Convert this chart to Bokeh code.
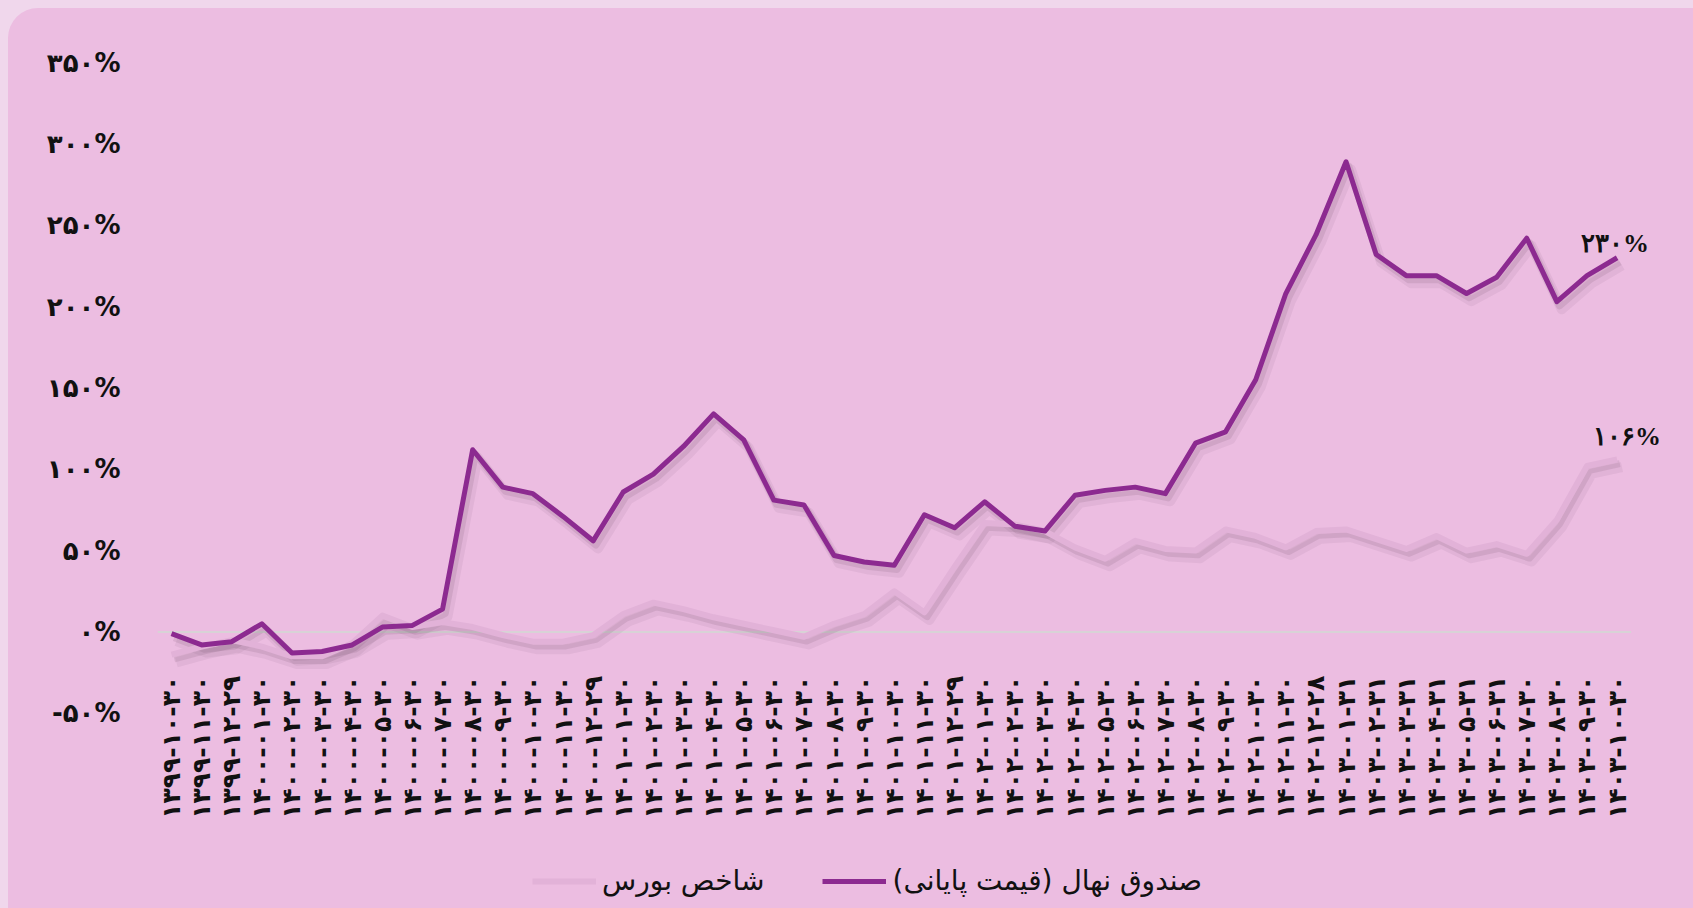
import math
from bokeh.plotting import figure
from bokeh.models import (ColumnDataSource, Range1d, FixedTicker, Legend, LegendItem,
                          GlobalInlineStyleSheet, LabelSet)
from bokeh.core.properties import value
from bokeh.embed import file_html
from bokeh.resources import INLINE

# ---------------- data ----------------
dates = [
    "1399-10-30", "1399-11-30", "1399-12-29",
    "1400-01-30", "1400-02-30", "1400-03-30", "1400-04-30", "1400-05-30", "1400-06-30",
    "1400-07-30", "1400-08-30", "1400-09-30", "1400-10-30", "1400-11-30", "1400-12-29",
    "1401-01-30", "1401-02-30", "1401-03-30", "1401-04-30", "1401-05-30", "1401-06-30",
    "1401-07-30", "1401-08-30", "1401-09-30", "1401-10-30", "1401-11-30", "1401-12-29",
    "1402-01-30", "1402-02-30", "1402-03-30", "1402-04-30", "1402-05-30", "1402-06-30",
    "1402-07-30", "1402-08-30", "1402-09-30", "1402-10-30", "1402-11-30", "1402-12-28",
    "1403-01-31", "1403-02-31", "1403-03-31", "1403-04-31", "1403-05-31", "1403-06-31",
    "1403-07-30", "1403-08-30", "1403-09-30", "1403-10-30",
]
nahal = [-1, -8, -6, 5, -13, -12, -8, 3, 4, 14,
         112, 89, 85, 71, 56, 86, 97, 114, 134, 118,
         81, 78, 47, 43, 41, 72, 64, 80, 65, 62,
         84, 87, 89, 85, 116, 123, 155, 208, 244, 289,
         232, 219, 219, 208, 218, 242, 203, 219, 230]
bourse = [-14, -9, -5, -9, -15, -15, -7, 10, 3, 6,
          3, -2, -6, -6, -2, 11, 18, 14, 9, 5,
          1, -3, 5, 11, 25, 12, 40, 67, 66, 62,
          52, 45, 56, 51, 50, 63, 59, 52, 62, 63,
          57, 51, 59, 50, 54, 48, 69, 102, 106]
y_ticks = [-50, 0, 50, 100, 150, 200, 250, 300, 350]
name_nahal = "صندوق نهال (قیمت پایانی)"
name_bourse = "شاخص بورس"

FA = str.maketrans("0123456789", "۰۱۲۳۴۵۶۷۸۹")
def fa(s):
    return str(s).translate(FA)

# ---------------- style ----------------
CARD = "#ecbde1"
PAGE = "#f0d7ec"
PURPLE = "#8c2a90"
LIGHT = "#e2b2d8"
SHADOW = "#5a3a55"
FONT = "DejaVu Sans"

n = len(dates)
x = list(range(n))
src = ColumnDataSource(dict(x=x, nahal=nahal, bourse=bourse))

# frame runs to the bottom of the card so that labels and legend sit inside it
ymin, ymax = -170, 350
xpad = 0.465
xextra = 1.64   # room on the right for the end labels
x0, x1 = -xpad, n - 1 + xpad + xextra
p = figure(width=1685, height=900, output_backend="svg", toolbar_location=None,
           x_range=Range1d(x0, x1), y_range=Range1d(ymin, ymax),
           min_border_left=149, min_border_right=13, min_border_top=54, min_border_bottom=0)

# shadow ranges (shift a few pixels down/right)
dy = 2.6
dx = 0.09
p.extra_y_ranges = {"sh": Range1d(ymin + dy, ymax + dy), "sh2": Range1d(ymin + dy * 1.8, ymax + dy * 1.8)}
p.extra_x_ranges = {"sh": Range1d(x0 - dx, x1 - dx), "sh2": Range1d(x0 - dx * 1.8, x1 - dx * 1.8)}

# card colour comes from the host element so frame and border share one surface
p.background_fill_color = None
p.border_fill_color = None
p.outline_line_color = None
p.xgrid.visible = False
p.ygrid.visible = False
p.xaxis.visible = False
p.styles = {"margin": "8px 0 0 8px", "border-top-left-radius": "30px", "overflow": "hidden",
            "background-color": CARD}
p.stylesheets = [GlobalInlineStyleSheet(css="html, body {background:%s; overflow:hidden;}" % PAGE)]

# zero line across the category span
p.segment(x0=[-xpad], y0=[0], x1=[n - 1 + xpad], y1=[0], line_color="#d8d2d6", line_width=2)

# shadows
for rng, a, w in (("sh2", 0.07, 10), ("sh", 0.12, 7)):
    p.line("x", "bourse", source=src, line_color=SHADOW, line_alpha=a, line_width=w,
           y_range_name=rng, x_range_name=rng, line_join="round")
    p.line("x", "nahal", source=src, line_color=SHADOW, line_alpha=a, line_width=w,
           y_range_name=rng, x_range_name=rng, line_join="round")

r_b = p.line("x", "bourse", source=src, line_color=LIGHT, line_width=6, line_join="round")
r_n = p.line("x", "nahal", source=src, line_color=PURPLE, line_width=5, line_join="round")

# y axis
p.yaxis.ticker = FixedTicker(ticks=y_ticks)
p.yaxis.major_label_overrides = {t: fa(t) + "%" for t in y_ticks}
p.yaxis.axis_line_color = None
p.yaxis.major_tick_line_color = None
p.yaxis.minor_tick_line_color = None
p.yaxis.major_label_standoff = 31
p.yaxis.major_label_text_font = FONT
p.yaxis.major_label_text_font_size = "26px"
p.yaxis.major_label_text_font_style = "bold"
p.yaxis.major_label_text_color = "#111111"

# category labels (rotated, reading upward), hung just under the zero line
label_y = -27
lbl_src = ColumnDataSource(dict(x=x, y=[label_y] * n, t=[fa(d) for d in dates]))
p.text("x", "y", text="t", source=lbl_src, angle=math.pi / 2, text_align="right",
       text_baseline="middle", text_font=value(FONT), text_font_size="25px",
       text_font_style="bold", text_color="#111111")

# end labels
end = n - 1
lab_src = ColumnDataSource(dict(
    x=[end, end], y=[nahal[end], bourse[end]],
    t=[fa(nahal[end]) + "%", fa(bourse[end]) + "%"],
    xo=[-2, 10], yo=[0, 8]))
p.add_layout(LabelSet(x="x", y="y", text="t", source=lab_src, x_offset="xo", y_offset="yo",
                      text_align="center", text_baseline="bottom", text_font=FONT,
                      text_font_size="26px", text_font_style="bold", text_color="#111111"))

# legend
legend = Legend(items=[LegendItem(label=name_bourse, renderers=[r_b]),
                       LegendItem(label=name_nahal, renderers=[r_n])],
                orientation="horizontal", location=(375, 11),
                glyph_width=64, glyph_height=20, label_standoff=6, spacing=58,
                padding=0, margin=0, border_line_color=None, background_fill_alpha=0,
                label_text_font=FONT, label_text_font_size="28px", label_text_color="#111111")
p.add_layout(legend, "center")

open("out.html", "w").write(file_html(p, INLINE))
